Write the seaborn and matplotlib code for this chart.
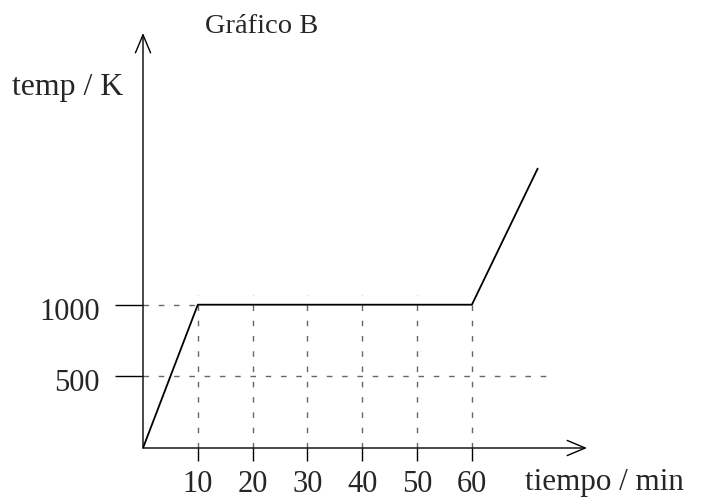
import matplotlib
matplotlib.use("Agg")
import matplotlib.pyplot as plt
import matplotlib.transforms as mtransforms
import seaborn as sns
import pandas as pd

# ---- data ----
tiempo_min = [0, 10, 60, 72]
temp_K = [0, 1000, 1000, 1950]
x_ticks = [10, 20, 30, 40, 50, 60]
y_ticks = [500, 1000]
title = "Gráfico B"
x_label = "tiempo / min"
y_label = "temp / K"

sns.set_style("white")
plt.rcParams["font.family"] = ["Liberation Serif", "DejaVu Serif"]
plt.rcParams["font.size"] = 20.5

fig = plt.figure(figsize=(7.03, 5.0), dpi=100)
ax = fig.add_axes([143 / 703, 52 / 500, 444 / 703, 415 / 500])

df = pd.DataFrame({"tiempo": tiempo_min, "temp": temp_K})

# guide lines
guide = dict(color="#666666", lw=1.0, linestyle=(0, (4, 7)))
ax.vlines(x_ticks, 0, 1070, **guide)
ax.hlines(500, 0, 75, **guide)
ax.hlines(1000, 0, 10, **guide)

sns.lineplot(data=df, x="tiempo", y="temp", ax=ax, color="black", lw=1.3, sort=False)

ax.set_xlim(0, 81)
ax.set_ylim(0, 2896)
ax.set_xticks(x_ticks)
ax.set_yticks(y_ticks)
ax.tick_params(axis="x", direction="out", length=9, width=1, pad=7, labelsize=22, color="black")
ax.tick_params(axis="y", direction="out", length=20, width=1, pad=11, labelsize=22, color="black")
ax.tick_params(bottom=True, left=True)
shift = mtransforms.ScaledTranslation(0, -4 / 100, fig.dpi_scale_trans)
for lbl in ax.get_yticklabels():
    lbl.set_transform(lbl.get_transform() + shift)

for s in ax.spines.values():
    s.set_visible(False)

# axis arrows
arrow = dict(arrowstyle="->,head_length=1.0,head_width=0.42", lw=1, color="black",
             mutation_scale=13, shrinkA=0, shrinkB=0)
ax.annotate("", xy=(1, 0), xytext=(0, 0), xycoords="axes fraction", arrowprops=arrow)
ax.annotate("", xy=(0, 1), xytext=(0, 0), xycoords="axes fraction", arrowprops=arrow)

ax.set_xlabel(x_label, ha="left", va="baseline", fontsize=22.4)
ax.xaxis.set_label_coords((525 - 143) / 444, (448 - 490) / 415)
ax.set_ylabel(y_label, rotation=0, ha="left", va="baseline", fontsize=22.9)
ax.yaxis.set_label_coords((12 - 143) / 444, (448 - 95) / 415)
ax.set_title(title, x=(205 - 143) / 444, y=(448 - 33) / 415, ha="left", va="baseline", pad=0, fontsize=20.5)

fig.savefig("out.png", dpi=100)
